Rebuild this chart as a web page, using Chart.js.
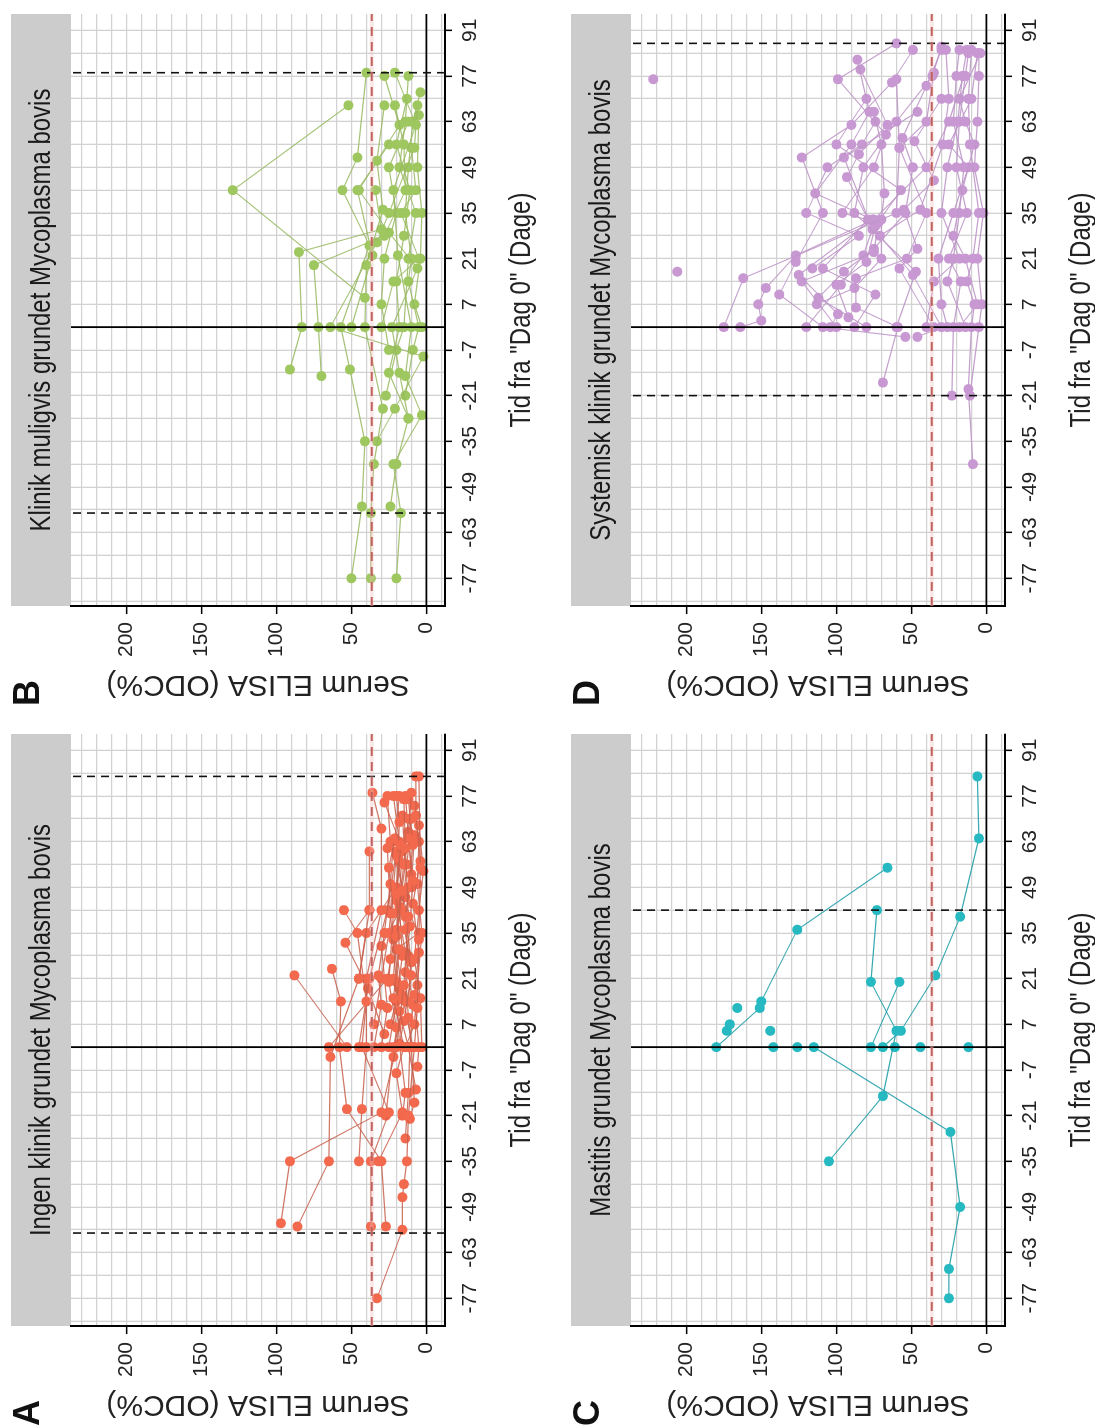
<!DOCTYPE html>
<html>
<head>
<meta charset="utf-8">
<script src="https://cdn.jsdelivr.net/npm/chart.js@4.4.1/dist/chart.umd.min.js"></script>
<style>
html, body { margin: 0; padding: 0; background: #fff; width: 1095px; height: 1428px; overflow: hidden; }
/* the figure is drawn upright and then turned a quarter turn to the left, like the reference */
#fig { position: absolute; left: 0; top: 0; width: 1440px; height: 1110px; transform-origin: 0 0; transform: translateY(1428px) rotate(-90deg); }
.panel { position: absolute; width: 714px; height: 548px; }
.panel canvas { position: absolute; left: 0; top: 0; }
</style>
</head>
<body>
<div id="fig">
  <div class="panel" style="left:0;top:0"><canvas id="cA" width="714" height="548"></canvas></div>
  <div class="panel" style="left:720px;top:0"><canvas id="cB" width="714" height="548"></canvas></div>
  <div class="panel" style="left:0;top:560px"><canvas id="cC" width="714" height="548"></canvas></div>
  <div class="panel" style="left:720px;top:560px"><canvas id="cD" width="714" height="548"></canvas></div>
</div>
<script>
// axis breaks
var dayGrid = [-84, -77, -70, -63, -56, -49, -42, -35, -28, -21, -14, -7, 0, 7, 14, 21, 28, 35, 42, 49, 56, 63, 70, 77, 84, 91];
var dayLabels = [-77, -63, -49, -35, -21, -7, 7, 21, 35, 49, 63, 77, 91];
var elisaGrid = [-10, 0, 10, 20, 30, 40, 50, 60, 70, 80, 90, 100, 110, 120, 130, 140, 150, 160, 170, 180, 190, 200, 210, 220, 230];
var elisaLabels = [0, 50, 100, 150, 200];
var cutoff = 36.5;

// [day, ELISA] per animal
var animalsA = [
  [[-77,33],[-56,16],[-46,16],[-42,15],[-35,13],[-21,12],[0,8],[12,6],[33,5],[55,4],[83,5]],
  [[-54,97],[-35,91],[-20,30],[0,20],[19,15],[40,12],[61,14],[76,15]],
  [[-55,86],[-35,65],[-3,64],[21,45],[42,38],[60,38]],
  [[-55,37],[-35,37],[-20,25],[0,43],[14,40],[35,46],[42,55]],
  [[-55,27],[-35,30],[-19,53],[0,58],[14,57],[24,63]],
  [[-35,45],[-19,43],[0,40],[21,40],[42,30],[67,30],[78,36]],
  [[-35,32],[-20,16],[-8,20],[0,15],[15,22],[30,18],[47,20],[62,17],[75,28]],
  [[-22,11],[-17,8],[0,10],[9,12],[23,14],[37,11],[51,9],[64,12],[78,10]],
  [[-6,6],[0,5],[16,8],[29,5],[44,9],[57,4],[71,7],[83,7]],
  [[-13,7],[0,12],[11,18],[21,22],[34,20],[48,16],[58,19],[69,18],[77,20]],
  [[-3,22],[6,20],[20,25],[27,24],[41,22],[55,25],[64,21],[77,18]],
  [[0,53],[22,88]],
  [[0,65],[21,26],[36,20],[56,15],[70,12]],
  [[0,35],[13,30],[22,32],[35,28],[50,24],[63,22]],
  [[1,18],[8,15],[22,10],[36,14],[49,12],[62,9],[76,12]],
  [[0,25],[14,20],[28,16],[43,18],[56,14],[71,16]],
  [[0,3],[15,4],[27,8],[42,5],[54,2],[68,5]],
  [[0,14],[7,8],[19,6],[35,3],[50,6],[63,5],[74,8]],
  [[7,35],[21,30],[35,25],[49,22],[59,20]],
  [[14,12],[26,10],[40,14],[53,10],[66,12],[77,14]],
  [[-21,27],[0,22],[14,14],[28,12],[42,16],[56,13],[70,10]],
  [[-21,16],[-14,14],[1,18],[20,20],[41,24],[61,26]],
  [[0,9],[16,16],[30,20],[35,5],[47,18],[60,16]],
  [[21,45],[35,40],[49,20],[63,18],[77,22]],
  [[0,45],[21,38],[42,26],[60,20]],
  [[-28,14],[-14,12],[0,11],[13,9],[29,14],[45,20],[57,18]],
  [[7,24],[18,18],[33,22],[46,14],[63,24],[77,26]],
  [[0,30],[12,26],[31,30],[49,10],[65,8]],
  [[4,28],[18,39],[32,54],[42,38]]
];

var animalsB = [
  [[9,41],[42,129],[68,52]],
  [[-77,50],[-55,43],[-35,41],[-13,51],[0,57],[25,38],[42,56],[52,46],[78,40]],
  [[-77,37],[-57,37],[-42,35],[-25,29],[0,41],[19,40],[36,29],[51,33],[68,28]],
  [[-77,20],[-57,17],[-42,22],[-27,3],[-15,14],[0,10],[22,19],[42,22],[62,7],[78,21]],
  [[-13,91],[0,83],[23,85],[30,30],[42,34]],
  [[-15,70],[0,72],[19,75],[28,28],[42,14],[56,15],[68,21]],
  [[-35,33],[-25,21],[-9,2],[0,64],[26,33],[35,25],[55,8],[68,6]],
  [[-55,24],[-42,20],[-28,12],[-14,18],[0,23],[18,6],[29,25],[42,45],[62,18],[77,28]],
  [[-21,14],[-7,9],[0,5],[14,12],[21,10],[35,14],[49,12],[63,9],[72,4]],
  [[0,50],[22,36],[42,46],[56,25]],
  [[-28,12],[-14,25],[0,18],[14,20],[28,15],[42,11],[56,20],[70,13]],
  [[-21,27],[-7,20],[0,15],[21,12],[35,7],[49,18],[63,14],[77,12]],
  [[0,3],[7,8],[21,4],[35,3],[49,6],[65,5]],
  [[-7,25],[7,30],[21,28],[35,20],[49,25],[63,12]],
  [[0,30],[14,22],[21,5],[35,17],[42,7],[55,10]]
];

var animalsC = [
  [[0,180],[12,151],[14,150],[36,126],[55,66]],
  [[-77,25],[-68,25],[-49,17.5],[-26,24],[0,115]],
  [[-35,105],[-15,69],[5,60],[20,77],[42,73]],
  [[0,77],[20,58]],
  [[0,69],[5,57],[22,34],[40,17.5],[64,5],[83,6]],
  [[5,173],[7,171]],
  [[12,166]],
  [[5,144]],
  [[0,142]],
  [[0,126]],
  [[0,61]],
  [[0,44]],
  [[0,12]]
];

var animalsD = [
  [[76,222]],
  [[17,206]],
  [[0,175],[15,162],[35,60],[55,58],[76,60]],
  [[0,164],[2,150],[7,152],[12,147],[22,127],[33,75],[49,40],[63,25],[77,15]],
  [[-3,54],[0,109],[10,138],[20,127],[35,109],[52,123],[62,90],[75,63],[85,49]],
  [[0,104],[4,99],[16,125],[33,76],[41,114],[56,90],[66,78],[82,86]],
  [[0,100],[14,123],[23,75],[32,72],[35,96],[49,75],[59,67],[76,99],[87,60]],
  [[-17,69],[0,59],[6,87],[15,87],[21,53],[35,40],[55,58],[63,40],[78,35]],
  [[0,80],[9,112],[17,95],[24,75],[35,54],[49,49],[58,56],[74,40],[85,30]],
  [[-3,46],[0,30],[16,49],[28,71],[36,44],[56,29],[70,25],[85,27]],
  [[-21,23],[0,22],[14,17],[21,25],[35,13],[49,20],[63,18],[77,14],[84,12]],
  [[-42,9],[-19,12],[0,10],[7,8],[14,13],[21,9],[35,5],[56,11],[70,12],[85,10]],
  [[-21,11],[0,5],[7,3],[21,6],[35,2],[49,8],[63,6],[77,5],[84,5]],
  [[0,40],[14,35],[21,18],[35,30],[49,26],[63,19],[77,16],[85,13]],
  [[0,18],[7,6],[21,14],[28,22],[42,16],[56,8],[63,14],[70,18],[84,4]],
  [[0,60],[17,47],[35,88],[49,82],[63,60],[77,36],[86,30]],
  [[0,35],[18,58],[24,46],[36,55],[45,35],[57,48],[70,30]],
  [[0,14],[14,26],[21,22],[35,18],[49,15],[63,22],[77,20],[85,18]],
  [[0,26],[7,30],[21,32],[35,22],[49,12],[56,25],[70,10],[84,6]],
  [[7,113],[12,88],[21,70],[33,70],[41,68],[56,70],[66,75]],
  [[3,92],[13,100],[20,80],[31,74],[42,57],[56,100],[70,80]],
  [[0,88],[10,74],[18,109],[33,79],[46,93],[53,85],[62,66],[79,84]],
  [[0,120],[13,97],[22,82],[30,76],[52,95],[66,46]],
  [[18,116],[28,85],[35,120],[49,106],[56,83],[63,74]]
];

// black dashed day markers per panel
var dashA = [-57, 83];
var dashB = [-57, 78];
var dashC = [42];
var dashD = [-21, 87];

var dayMin = -85.5, dayMax = 96;
var elisaMin = -12.4, elisaMax = 236.9;
var xTitle = 'Tid fra "Dag 0" (Dage)';
var yTitle = 'Serum ELISA (ODC%)';

var regular = '"Liberation Sans", Arial, sans-serif';

var panels = [
  { id: 'cA', letter: 'A', title: 'Ingen klinik grundet Mycoplasma bovis', animals: animalsA, dash: dashA, point: '#f3694d', line: 'rgba(200,95,75,0.85)' },
  { id: 'cB', letter: 'B', title: 'Klinik muligvis grundet Mycoplasma bovis', animals: animalsB, dash: dashB, point: '#9fc760', line: 'rgba(150,185,95,0.85)' },
  { id: 'cC', letter: 'C', title: 'Mastitis grundet Mycoplasma bovis', animals: animalsC, dash: dashC, point: '#27b9c1', line: 'rgba(35,160,170,0.9)' },
  { id: 'cD', letter: 'D', title: 'Systemisk klinik grundet Mycoplasma bovis', animals: animalsD, dash: dashD, point: '#c898d2', line: 'rgba(190,150,200,0.9)' }
];

// condensed text: squeeze a normal face sideways
function narrowText(ctx, text, x, y, size) {
  ctx.save();
  ctx.translate(x, y);
  ctx.scale(0.8, 1);
  ctx.font = size + 'px ' + regular;
  ctx.textAlign = 'center';
  ctx.textBaseline = 'middle';
  ctx.fillText(text, 0, 0);
  ctx.restore();
}

// grey strip with the panel title, the x title and the panel letter
var stripPlugin = {
  id: 'strip',
  beforeDraw: function (chart, args, opts) {
    var ctx = chart.ctx, area = chart.chartArea;
    var cx = (area.left + area.right) / 2;
    ctx.save();
    ctx.fillStyle = '#cccccc';
    ctx.fillRect(area.left, 11, area.right - area.left, area.top - 11);
    ctx.fillStyle = '#1a1a1a';
    narrowText(ctx, opts.title, cx, (11 + area.top) / 2 + 1, 30);
    ctx.fillStyle = '#222';
    narrowText(ctx, xTitle, cx, 522, 30);
    ctx.fillStyle = '#111';
    ctx.font = 'bold 36px ' + regular;
    ctx.textAlign = 'left';
    ctx.textBaseline = 'alphabetic';
    ctx.fillText(opts.letter, 2, 39);
    ctx.restore();
  }
};

function refLine(points, color, width, dash) {
  return {
    data: points, showLine: true, borderColor: color, borderWidth: width,
    borderDash: dash || [], pointRadius: 0, order: 0
  };
}

function makeChart(p) {
  var datasets = p.animals.map(function (a) {
    return {
      data: a.map(function (d) { return { x: d[0], y: d[1] }; }),
      showLine: true,
      borderColor: p.line,
      borderWidth: 1.1,
      pointRadius: 5,
      pointBackgroundColor: p.point,
      pointBorderColor: p.point,
      pointBorderWidth: 0,
      order: 2
    };
  });
  datasets.push(refLine([{ x: dayMin, y: cutoff }, { x: dayMax, y: cutoff }], 'rgba(240,185,185,0.35)', 4));
  datasets.push(refLine([{ x: dayMin, y: cutoff }, { x: dayMax, y: cutoff }], '#a8322d', 2, [9, 6]));
  p.dash.forEach(function (d) {
    datasets.push(refLine([{ x: d, y: elisaMin }, { x: d, y: elisaMax }], '#111', 1.6, [8, 6]));
  });
  datasets.push(refLine([{ x: 0, y: elisaMin }, { x: 0, y: elisaMax }], '#000', 1.8));
  datasets.push(refLine([{ x: dayMin, y: 0 }, { x: dayMax, y: 0 }], '#000', 1.8));

  new Chart(document.getElementById(p.id).getContext('2d'), {
    type: 'scatter',
    data: { datasets: datasets },
    plugins: [stripPlugin],
    options: {
      responsive: false,
      animation: false,
      devicePixelRatio: 1,
      layout: { padding: { top: 71, right: 20, bottom: 0, left: 0 } },
      plugins: {
        legend: { display: false },
        tooltip: { enabled: false },
        strip: { title: p.title, letter: p.letter }
      },
      scales: {
        x: {
          type: 'linear', position: 'bottom', min: dayMin, max: dayMax,
          afterBuildTicks: function (s) { s.ticks = dayGrid.map(function (v) { return { value: v }; }); },
          afterFit: function (s) { s.height = 103; },
          ticks: {
            autoSkip: false, maxRotation: 0, minRotation: 0, padding: 6, color: '#222',
            font: { family: regular, size: 21 },
            callback: function (v) { return dayLabels.indexOf(v) >= 0 ? String(v) : ''; }
          },
          grid: {
            color: '#d2d2d2', lineWidth: 1.3, tickLength: 7, tickWidth: 1.5,
            tickColor: function (c) { return c.tick && dayLabels.indexOf(c.tick.value) >= 0 ? '#000' : 'rgba(0,0,0,0)'; }
          },
          border: { display: true, color: '#000', width: 2 },
          title: { display: false }
        },
        y: {
          type: 'linear', position: 'left', min: elisaMin, max: elisaMax,
          afterBuildTicks: function (s) { s.ticks = elisaGrid.map(function (v) { return { value: v }; }); },
          afterFit: function (s) { s.width = 102; },
          ticks: {
            autoSkip: false, padding: 8, color: '#222',
            font: { family: regular, size: 21 },
            callback: function (v) { return elisaLabels.indexOf(v) >= 0 ? String(v) : ''; }
          },
          grid: {
            color: '#d2d2d2', lineWidth: 1.3, tickLength: 8, tickWidth: 1.5,
            tickColor: function (c) { return c.tick && elisaLabels.indexOf(c.tick.value) >= 0 ? '#000' : 'rgba(0,0,0,0)'; }
          },
          border: { display: true, color: '#000', width: 2 },
          title: { display: true, text: yTitle, color: '#222', font: { family: regular, size: 30 }, padding: { top: 6, bottom: 0 } }
        }
      }
    }
  });
}

panels.forEach(makeChart);
</script>
</body>
</html>
